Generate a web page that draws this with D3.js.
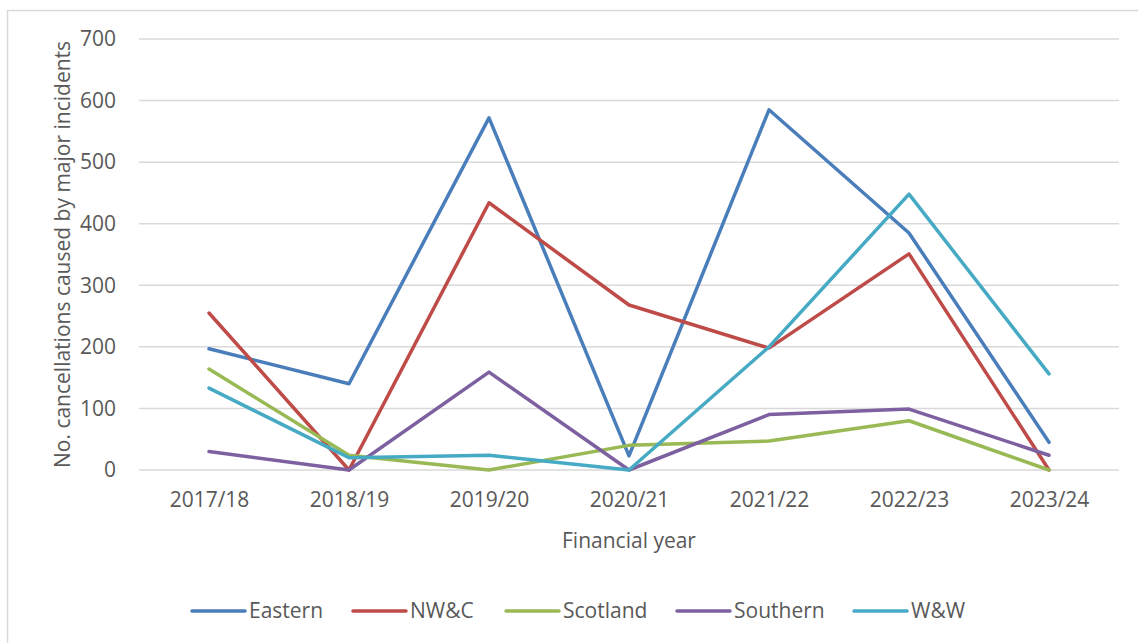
<!DOCTYPE html>
<html>
<head>
<meta charset="utf-8">
<script src="https://cdn.jsdelivr.net/npm/d3@7/dist/d3.min.js"></script>
<style>
  html, body { margin: 0; padding: 0; background: #fff; }
  svg { display: block; }
  text { font-family: "Open Sans", sans-serif; fill: #595959; }
</style>
</head>
<body>
<svg id="chart" width="1138" height="643"></svg>
<script>
// Financial years on the x axis
const years = ["2017/18", "2018/19", "2019/20", "2020/21", "2021/22", "2022/23", "2023/24"];

// Cancellations caused by major incidents, per route
const eastern  = [197, 140, 572, 23, 585, 385, 45];
const nwc      = [255, 0, 434, 268, 198, 351, 0];
const scotland = [164, 24, 0, 40, 47, 80, 0];
const southern = [30, 0, 159, 0, 90, 99, 24];
const ww       = [133, 20, 24, 0, 200, 448, 156];

const yTicks = [0, 100, 200, 300, 400, 500, 600, 700];

const seriesNames  = ["Eastern", "NW&C", "Scotland", "Southern", "W&W"];
const seriesValues = [eastern, nwc, scotland, southern, ww];
const seriesColors = ["#4a7ebb", "#be4b48", "#98b954", "#7d60a0", "#46aac5"];

const svg = d3.select("#chart");

// Chart frame
svg.append("rect")
  .attr("x", 7.5).attr("y", 10.5)
  .attr("width", 1200).attr("height", 700)
  .attr("fill", "#fff")
  .attr("stroke", "#d9d9d9").attr("stroke-width", 1.5);

const plot = { left: 139, right: 1119, top: 39, bottom: 470 };

const x = d3.scalePoint()
  .domain(years)
  .range([plot.left, plot.right])
  .padding(0.5);

const y = d3.scaleLinear()
  .domain([0, 700])
  .range([plot.bottom, plot.top]);

// Horizontal gridlines
svg.append("g")
  .selectAll("line")
  .data(yTicks)
  .join("line")
  .attr("x1", plot.left).attr("x2", plot.right)
  .attr("y1", d => y(d)).attr("y2", d => y(d))
  .attr("stroke", "#d9d9d9").attr("stroke-width", 1.5);

// Y axis labels
const yAxis = d3.axisLeft(y).tickValues(yTicks).tickSize(0).tickPadding(0);
svg.append("g")
  .attr("transform", `translate(${plot.left - 23},0)`)
  .call(yAxis)
  .call(g => g.select(".domain").remove())
  .call(g => g.selectAll("text")
    .attr("font-size", 21)
    .attr("font-family", "Open Sans, sans-serif")
    .attr("fill", "#595959"));

// X axis labels
const xAxis = d3.axisBottom(x).tickSize(0).tickPadding(0);
svg.append("g")
  .attr("transform", `translate(0,${plot.bottom + 22})`)
  .call(xAxis)
  .call(g => g.select(".domain").remove())
  .call(g => g.selectAll("text")
    .attr("font-size", 21)
    .attr("font-family", "Open Sans, sans-serif")
    .attr("fill", "#595959"));

// Axis titles
svg.append("text")
  .attr("x", (plot.left + plot.right) / 2)
  .attr("y", 548)
  .attr("text-anchor", "middle")
  .attr("font-size", 21)
  .text("Financial year");

svg.append("text")
  .attr("transform", `translate(70,${(plot.top + plot.bottom) / 2}) rotate(-90)`)
  .attr("text-anchor", "middle")
  .attr("font-size", 21)
  .text("No. cancellations caused by major incidents");

// Series lines
const line = d3.line()
  .x((d, i) => x(years[i]))
  .y(d => y(d));

svg.append("g")
  .selectAll("path")
  .data(seriesValues)
  .join("path")
  .attr("d", d => line(d))
  .attr("fill", "none")
  .attr("stroke", (d, i) => seriesColors[i])
  .attr("stroke-width", 3.5)
  .attr("stroke-linejoin", "round")
  .attr("stroke-linecap", "round");

// Legend
const legendX = [192, 353, 506, 677, 854];
const legend = svg.append("g")
  .selectAll("g")
  .data(seriesNames)
  .join("g")
  .attr("transform", (d, i) => `translate(${legendX[i]},611)`);

legend.append("line")
  .attr("x1", 0).attr("x2", 53)
  .attr("y1", 0).attr("y2", 0)
  .attr("stroke", (d, i) => seriesColors[i])
  .attr("stroke-width", 3.5)
  .attr("stroke-linecap", "round");

legend.append("text")
  .attr("x", 57)
  .attr("y", 7)
  .attr("font-size", 21)
  .text(d => d);
</script>
</body>
</html>
